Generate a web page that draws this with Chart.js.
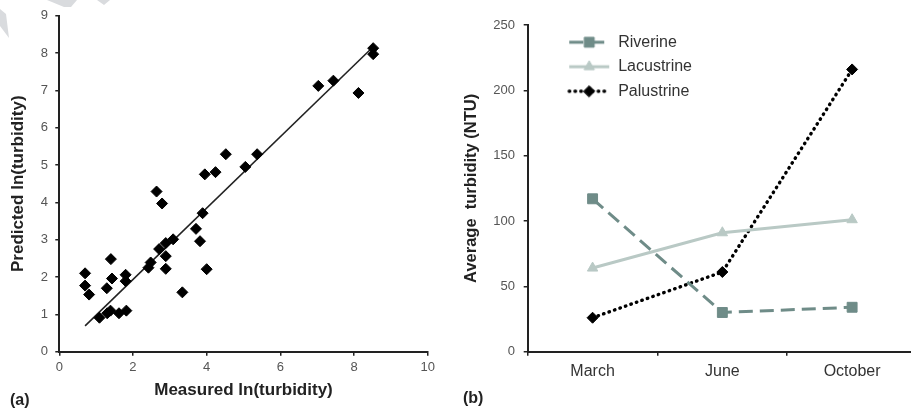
<!DOCTYPE html>
<html>
<head>
<meta charset="utf-8">
<script src="https://cdn.jsdelivr.net/npm/chart.js@4.4.0/dist/chart.umd.min.js"></script>
<style>
html,body{margin:0;padding:0;background:#fff;overflow:hidden;width:911px;height:408px;}
#wrap{position:relative;width:911px;height:408px;overflow:hidden;}
#c1{position:absolute;left:0;top:0;}
#c2{position:absolute;left:455px;top:0;}
.tag{position:absolute;font:bold 16px "Liberation Sans",Arial,sans-serif;color:#222;}
.mark{position:absolute;left:0;top:0;width:120px;height:40px;background:#d9dbde;}
</style>
</head>
<body>
<div id="wrap">
<div class="mark" style="clip-path:polygon(0 9px,6px 14px,9px 38px,0 26px)"></div>
<div class="mark" style="clip-path:polygon(47px 0,77px 0,71px 7px,64px 7px)"></div>
<div class="mark" style="clip-path:polygon(97px 0,110px 0,104px 5px)"></div>
<canvas id="c1" width="455" height="408"></canvas>
<canvas id="c2" width="470" height="408"></canvas>
<div class="tag" style="left:10px;top:391px">(a)</div>
<div class="tag" style="left:463px;top:389px">(b)</div>
</div>
<script>
// (a) measured vs predicted ln(turbidity)
var measured  = [0.70,0.70,0.81,1.09,1.29,1.30,1.39,1.40,1.43,1.62,1.80,1.80,1.82,2.42,2.48,2.64,2.79,2.71,2.89,2.89,2.89,3.09,3.34,3.71,3.82,3.89,3.95,4.00,4.24,4.52,5.05,5.37,7.03,7.44,8.12,8.52,8.52];
var predicted = [2.10,1.77,1.53,0.91,1.70,1.03,1.10,2.48,1.96,1.03,2.06,1.89,1.10,2.25,2.39,4.29,3.97,2.75,2.91,2.56,2.22,3.01,1.59,3.29,2.96,3.71,4.75,2.21,4.81,5.29,4.95,5.29,7.12,7.26,6.93,8.13,7.97];
var fitX = [0.70, 8.43];
var fitY = [0.69, 8.08];

// (b) average turbidity by month
var months = ['March', 'June', 'October'];
var riverine   = [117, 30, 34];
var lacustrine = [64, 91, 101];
var palustrine = [26, 61, 216];

Chart.defaults.font.family = '"Liberation Sans", Arial, sans-serif';
Chart.defaults.animation = false;

var axisCol = '#222';

function fixW(w){ return function(s){ s.width = w; s.paddingTop = 0; s.paddingBottom = 0; }; }
function fixH(h){ return function(s){ s.height = h; s.paddingLeft = 0; s.paddingRight = 0; }; }

var pts = [];
for (var i = 0; i < measured.length; i++) pts.push({x: measured[i], y: predicted[i]});
var fit = [];
for (var j = 0; j < fitX.length; j++) fit.push({x: fitX[j], y: fitY[j]});

new Chart(document.getElementById('c1'), {
    type: 'scatter',
    data: {
        datasets: [
            {data: pts, pointStyle: 'rectRot', pointRadius: 5.5, borderWidth: 1,
             backgroundColor: '#000', borderColor: '#000'},
            {type: 'line', data: fit, showLine: true, borderColor: '#222', borderWidth: 1.6,
             pointRadius: 0, fill: false}
        ]
    },
    options: {
        responsive: false,
        layout: {padding: {left: 0, top: 15.7, right: 27.3, bottom: 0}},
        plugins: {legend: {display: false}, tooltip: {enabled: false}},
        scales: {
            x: {
                type: 'linear', min: 0, max: 10,
                ticks: {stepSize: 2, color: '#555', font: {size: 13}, padding: 4},
                grid: {drawOnChartArea: false, tickLength: 4, color: axisCol, lineWidth: 1.5},
                border: {color: axisCol, width: 2},
                title: {display: true, text: 'Measured ln(turbidity)', color: '#222',
                        font: {size: 17, weight: 'bold'}, padding: {top: 0, bottom: 7.8}},
                afterFit: fixH(56.3)
            },
            y: {
                min: 0, max: 9,
                ticks: {stepSize: 1, color: '#555', font: {size: 13}, padding: 7.3},
                grid: {drawOnChartArea: false, tickLength: 4, color: axisCol, lineWidth: 1.5},
                border: {color: axisCol, width: 2},
                title: {display: true, text: 'Predicted ln(turbidity)', color: '#222',
                        font: {size: 17, weight: 'bold'}, padding: {top: 7.8, bottom: 0}},
                afterFit: fixW(59.3)
            }
        }
    }
});

// legend samples: short line with the marker in the middle
function sample(color, dash, width, cap, style, radius){
    var c = document.createElement('canvas');
    c.width = 74; c.height = 16;
    var ctx = c.getContext('2d');
    ctx.strokeStyle = color;
    ctx.lineWidth = width;
    ctx.lineCap = cap;
    ctx.setLineDash(dash);
    ctx.beginPath();
    ctx.moveTo(33, 8);
    ctx.lineTo(73, 8);
    ctx.stroke();
    ctx.setLineDash([]);
    ctx.fillStyle = color;
    ctx.lineWidth = 1;
    Chart.helpers.drawPoint(ctx, {pointStyle: style, radius: radius, rotation: 0, borderWidth: 1}, 53, 8);
    return c;
}

var rivCol = '#6f8c88', lacCol = '#b9c9c5', palCol = '#000';
var series = [
    {label: 'Riverine', data: riverine, color: rivCol, dash: [14, 7], w: 3, cap: 'butt', style: 'rect', r: 7},
    {label: 'Lacustrine', data: lacustrine, color: lacCol, dash: [], w: 3, cap: 'butt', style: 'triangle', r: 6},
    {label: 'Palustrine', data: palustrine, color: palCol, dash: [0.5, 5.3], w: 3.4, cap: 'round', style: 'rectRot', r: 5.5}
];
var lineSets = series.map(function(s){
    return {
        label: s.label, data: s.data,
        borderColor: s.color, backgroundColor: s.color,
        borderWidth: s.w, borderDash: s.dash, borderCapStyle: s.cap,
        pointStyle: s.style, pointRadius: s.r, pointBorderWidth: 1,
        pointBackgroundColor: s.color, pointBorderColor: s.color,
        tension: 0, fill: false
    };
});

new Chart(document.getElementById('c2'), {
    type: 'line',
    data: {labels: months, datasets: lineSets},
    options: {
        responsive: false,
        layout: {padding: {left: 0, top: 25, right: 3.3, bottom: 0}},
        plugins: {
            tooltip: {enabled: false},
            legend: {
                position: 'chartArea', align: 'start',
                title: {display: true, text: ' ', font: {size: 1}, padding: {top: 24.5, bottom: 0}},
                labels: {
                    usePointStyle: true, pointStyleWidth: 74, boxHeight: 16,
                    padding: 8.5, color: '#333', font: {size: 16},
                    generateLabels: function(){
                        return series.map(function(s, k){
                            return {text: s.label, datasetIndex: k, fontColor: '#333', lineWidth: 0,
                                    pointStyle: sample(s.color, s.dash, s.w, s.cap, s.style, s.r),
                                    fillStyle: s.color, strokeStyle: s.color};
                        });
                    }
                }
            }
        },
        scales: {
            x: {
                type: 'category', offset: true,
                ticks: {color: '#333', font: {size: 16}, padding: 6.5},
                grid: {offset: true, drawOnChartArea: false, tickLength: 4, color: axisCol, lineWidth: 1.5},
                border: {color: axisCol, width: 2},
                afterFit: fixH(56.3)
            },
            y: {
                min: 0, max: 250,
                ticks: {stepSize: 50, color: '#555', font: {size: 13}, padding: 8.7},
                grid: {drawOnChartArea: false, tickLength: 4, color: axisCol, lineWidth: 1.5},
                border: {color: axisCol, width: 2},
                title: {display: true, text: 'Average  turbidity (NTU)', color: '#222',
                        font: {size: 16.5, weight: 'bold'}, padding: {top: 6.8, bottom: 0}},
                afterFit: fixW(72.7)
            }
        }
    }
});
</script>
</body>
</html>
